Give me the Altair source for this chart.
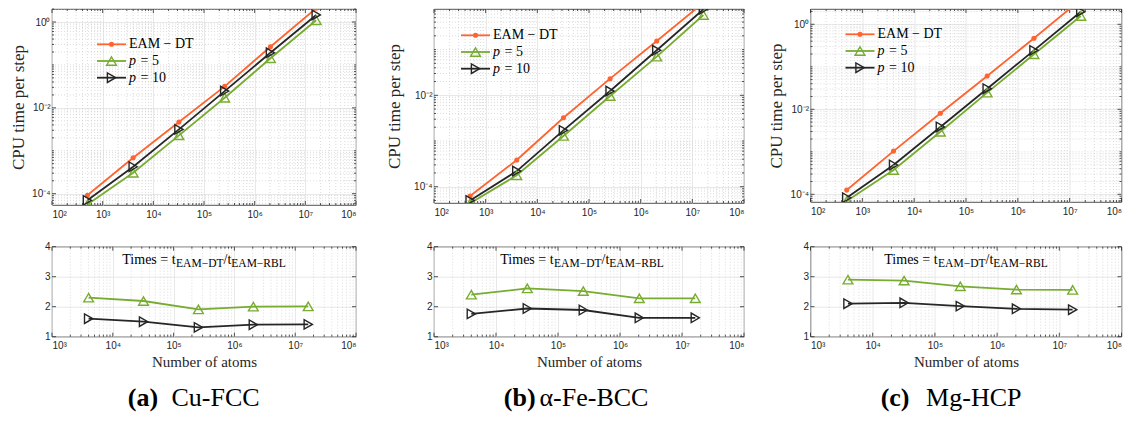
import altair as alt
import pandas as pd

# ---------------- data ----------------
atoms = [500, 4000, 32000, 256000, 2048000, 16384000]
atoms_ratio = [4000, 32000, 256000, 2048000, 16384000]

cu_dt = [9.2e-5, 6.9e-4, 4.67e-3, 0.0317, 0.265, 2.09]
cu_p5 = [5.6e-5, 3.07e-4, 2.29e-3, 0.0172, 0.143, 1.10]
cu_p10 = [7.0e-5, 4.24e-4, 3.15e-3, 0.0246, 0.192, 1.46]
cu_r5 = [2.30, 2.19, 1.91, 2.00, 2.01]
cu_r10 = [1.60, 1.50, 1.31, 1.40, 1.41]

fe_dt = [6.25e-5, 3.84e-4, 3.23e-3, 0.0231, 0.154, 1.06]
fe_p5 = [4.33e-5, 1.78e-4, 1.29e-3, 9.66e-3, 0.070, 0.571]
fe_p10 = [5.0e-5, 2.2e-4, 1.71e-3, 0.0124, 0.0966, 0.762]
fe_r5 = [2.40, 2.61, 2.52, 2.28, 2.28]
fe_r10 = [1.76, 1.94, 1.89, 1.63, 1.63]

mg_dt = [1.26e-4, 1.04e-3, 8.05e-3, 0.0608, 0.469, 3.8]
mg_p5 = [6.95e-5, 3.73e-4, 2.97e-3, 0.0246, 0.197, 1.57]
mg_p10 = [8.3e-5, 4.89e-4, 3.84e-3, 0.0305, 0.244, 1.98]
mg_r5 = [2.90, 2.87, 2.68, 2.57, 2.56]
mg_r10 = [2.10, 2.13, 2.02, 1.93, 1.90]

series_names = ["EAM − DT", "p = 5", "p = 10"]
legend_italic = ["", "p", "p"]
legend_rest = ["EAM − DT", "= 5", "= 10"]
colors = ["#FF6330", "#77AC30", "#262626"]
caption_bold = ["(a)", "(b)", "(c)"]
caption_text = ["Cu-FCC", "α-Fe-BCC", "Mg-HCP"]

# ---------------- styling helpers ----------------
SERIF = "Liberation Serif"
SANS = "Liberation Sans"
FRAME = "#262626"
MAJOR_GRID = "#e2e2e2"
MINOR_GRID = "#cdcdcd"
YTITLE_SIZE = 17
SUP = str.maketrans("-0123456789", "⁻⁰¹²³⁴⁵⁶⁷⁸⁹")
ONE = pd.DataFrame({"k": [0]})


def pow_expr(exps):
    e = "round(log(datum.value)/log(10))"
    expr = "''"
    for k in exps:
        expr = f"({e} == {k}) ? '10{str(k).translate(SUP)}' : {expr}"
    return expr


point_styles = [
    dict(shape="circle", size=26, filled=True),
    dict(shape="triangle-up", size=95, filled=False),
    dict(shape="triangle-right", size=90, filled=False),
]
color_scale = alt.Scale(domain=series_names, range=colors)


def edge_ticks(values, enc, W, H, length, vertical_axis):
    """inward tick marks on the frame, positioned through the chart's scale"""
    df = pd.DataFrame({enc.shorthand.split(":")[0]: values})
    out = []
    if vertical_axis:  # ticks along y (left and right edges)
        for a, b in [(0, length), (W, W - length)]:
            out.append(alt.Chart(df).mark_rule(color=FRAME, strokeWidth=0.8).encode(
                y=enc, x=alt.value(a), x2=alt.value(b)))
    else:  # ticks along x (bottom and top edges)
        for a, b in [(H, H - length), (0, length)]:
            out.append(alt.Chart(df).mark_rule(color=FRAME, strokeWidth=0.8).encode(
                x=enc, y=alt.value(a), y2=alt.value(b)))
    return out


def legend_layers(lx0, ly0):
    out = []
    for i, (col, st) in enumerate(zip(colors, point_styles)):
        cy = ly0 + i * 16.7
        out.append(alt.Chart(ONE).mark_rule(color=col, strokeWidth=1.8).encode(
            x=alt.value(lx0), x2=alt.value(lx0 + 29), y=alt.value(cy)))
        out.append(alt.Chart(ONE).mark_point(color=col, strokeWidth=1.4, opacity=1, **st).encode(
            x=alt.value(lx0 + 14.5), y=alt.value(cy)))
        tx = lx0 + 32
        if legend_italic[i]:
            out.append(alt.Chart(ONE).mark_text(font=SERIF, fontSize=14, fontStyle="italic",
                                                align="left", baseline="middle", color="black").encode(
                x=alt.value(tx), y=alt.value(cy), text=alt.value(legend_italic[i])))
            tx += 11.5
        out.append(alt.Chart(ONE).mark_text(font=SERIF, fontSize=14, align="left",
                                            baseline="middle", color="black").encode(
            x=alt.value(tx), y=alt.value(cy), text=alt.value(legend_rest[i])))
    return out


def top_chart(dt, p5, p10, ydom, W, H, lx0, ly0, yext, ytp):
    df = pd.DataFrame({
        "atoms": atoms * 3,
        "time": dt + p5 + p10,
        "series": [n for n in series_names for _ in atoms],
    })
    xs = alt.Scale(type="log", domain=[1e2, 1e8], nice=False)
    ys = alt.Scale(type="log", domain=ydom, nice=False)
    xmaj = [10.0 ** k for k in range(2, 9)]
    ymaj = [v for v in [1e-4, 1e-2, 1.0] if ydom[0] <= v <= ydom[1]]
    xaxis = alt.Axis(values=xmaj, labelExpr=pow_expr(range(2, 9)), title=None,
                     grid=True, labelPadding=4)
    yaxis = alt.Axis(values=ymaj, labelExpr=pow_expr([-4, -2, 0]),
                     title="CPU time per step", titleFontSize=YTITLE_SIZE, grid=True,
                     minExtent=yext, maxExtent=yext, titlePadding=ytp)
    X = alt.X("atoms:Q", scale=xs, axis=xaxis)
    Y = alt.Y("time:Q", scale=ys, axis=yaxis)
    minor_x = [m * 10.0 ** k for k in range(2, 8) for m in range(2, 10)]
    minor_y = [m * 10.0 ** k for k in range(-5, 1) for m in range(1, 10)
               if ydom[0] < m * 10.0 ** k < ydom[1] and not (m == 1 and k in (-4, -2, 0))]

    lines = alt.Chart(df).mark_line(strokeWidth=1.8, clip=True).encode(
        x=X, y=Y, color=alt.Color("series:N", scale=color_scale, legend=None))
    gx = alt.Chart(pd.DataFrame({"atoms": minor_x})).mark_rule(
        color=MINOR_GRID, strokeDash=[1, 2], strokeWidth=0.7).encode(x=X)
    gy = alt.Chart(pd.DataFrame({"time": minor_y})).mark_rule(
        color=MINOR_GRID, strokeDash=[1, 2], strokeWidth=0.7).encode(y=Y)
    ticks = (edge_ticks(xmaj, X, W, H, 4, False) + edge_ticks(minor_x, X, W, H, 2, False)
             + edge_ticks(ymaj, Y, W, H, 4, True) + edge_ticks(minor_y, Y, W, H, 2, True))
    pts = []
    for name, col, st in zip(series_names, colors, point_styles):
        pts.append(alt.Chart(df).transform_filter(alt.datum.series == name).mark_point(
            color=col, strokeWidth=1.4, opacity=1, clip=True, **st).encode(x=X, y=Y))
    return alt.layer(gx, gy, *ticks, lines, *pts, *legend_layers(lx0, ly0)).properties(width=W, height=H)


def bottom_chart(r5, r10, W, H, yext, ytp, cap_b, cap_t, cap_bx, cap_tx, ann_dx):
    names = series_names[1:]
    df = pd.DataFrame({
        "atoms": atoms_ratio * 2,
        "ratio": r5 + r10,
        "series": [n for n in names for _ in atoms_ratio],
    })
    xs = alt.Scale(type="log", domain=[1e3, 1e8], nice=False)
    ys = alt.Scale(domain=[1, 4], nice=False, zero=False)
    xmaj = [10.0 ** k for k in range(3, 9)]
    ymaj = [1, 2, 3, 4]
    xaxis = alt.Axis(values=xmaj, labelExpr=pow_expr(range(3, 9)),
                     title="Number of atoms", grid=True, labelPadding=4, titlePadding=4)
    yaxis = alt.Axis(values=ymaj, format="d", title="CPU time per step", titleOpacity=0,
                     titleFontSize=YTITLE_SIZE, grid=True,
                     minExtent=yext, maxExtent=yext, titlePadding=ytp)
    X = alt.X("atoms:Q", scale=xs, axis=xaxis)
    Y = alt.Y("ratio:Q", scale=ys, axis=yaxis)
    minor_x = [m * 10.0 ** k for k in range(3, 8) for m in range(2, 10)]
    lines = alt.Chart(df).mark_line(strokeWidth=1.8).encode(
        x=X, y=Y, color=alt.Color("series:N", scale=color_scale, legend=None))
    gx = alt.Chart(pd.DataFrame({"atoms": minor_x})).mark_rule(
        color=MINOR_GRID, strokeDash=[1, 2], strokeWidth=0.7).encode(x=X)
    ticks = (edge_ticks(xmaj, X, W, H, 4, False) + edge_ticks(minor_x, X, W, H, 2, False)
             + edge_ticks(ymaj, Y, W, H, 4, True))
    pts = []
    for name, col, st in zip(names, colors[1:], point_styles[1:]):
        pts.append(alt.Chart(df).transform_filter(alt.datum.series == name).mark_point(
            color=col, strokeWidth=1.4, opacity=1, **st).encode(x=X, y=Y))

    # annotation: Times = t_{EAM-DT} / t_{EAM-RBL}
    w1, w2, w3, w4 = 53.8, 47.4, 7.8, 54.4
    x0 = W / 2 - (w1 + w2 + w3 + w4) / 2 + ann_dx
    pieces = [("Times = t", 14, x0, 17.3), ("EAM−DT", 11.5, x0 + w1, 20.5),
              ("/t", 14, x0 + w1 + w2, 17.3), ("EAM−RBL", 11.5, x0 + w1 + w2 + w3, 20.5)]
    ann = []
    for txt, fs, px, py in pieces:
        ann.append(alt.Chart(ONE).mark_text(font=SERIF, fontSize=fs, align="left",
                                            baseline="alphabetic", color="black").encode(
            x=alt.value(px), y=alt.value(py), text=alt.value(txt)))
    capb = alt.Chart(ONE).mark_text(font=SERIF, fontSize=26, fontWeight="bold", align="right",
                                    baseline="alphabetic", color="black").encode(
        x=alt.value(cap_bx), y=alt.value(159.5), text=alt.value(cap_b))
    capt = alt.Chart(ONE).mark_text(font=SERIF, fontSize=26, align="left",
                                    baseline="alphabetic", color="black").encode(
        x=alt.value(cap_tx), y=alt.value(159.5), text=alt.value(cap_t))
    return alt.layer(gx, *ticks, lines, *pts, *ann, capb, capt).properties(width=W, height=H)


# ---------------- panels ----------------
top_a = top_chart(cu_dt, cu_p5, cu_p10, [5.45e-5, 2.01], 304, 196, 45, 35.3, 21, 3.5)
top_b = top_chart(fe_dt, fe_p5, fe_p10, [4.40e-5, 0.773], 310, 194, 27, 26.3, 26, 4.2)
top_c = top_chart(mg_dt, mg_p5, mg_p10, [6.59e-5, 2.29], 311, 193, 35, 25.3, 22, 3.2)

bot_a = bottom_chart(cu_r5, cu_r10, 304, 90, 21, 3.5, caption_bold[0], caption_text[0], 106.2, 119.5, 0)
bot_b = bottom_chart(fe_r5, fe_r10, 310, 90, 26, 4.2, caption_bold[1], caption_text[1], 101.6, 105.5, -7)
bot_c = bottom_chart(mg_r5, mg_r10, 311, 90, 22, 3.2, caption_bold[2], caption_text[2], 99.0, 115.6, 0)

col_a = alt.vconcat(top_a, bot_a, spacing=8.7)
col_b = alt.vconcat(top_b, bot_b, spacing=10.7)
col_c = alt.vconcat(top_c, bot_c, spacing=11.7)
right = alt.hconcat(col_b, col_c, spacing=21.5)

chart = alt.hconcat(col_a, right, spacing=28).properties(
    padding={"left": 1, "top": 0, "right": 0, "bottom": 0}, background="white"
).configure_view(
    stroke=FRAME, strokeWidth=0.8
).configure_axis(
    labelFont=SANS, labelFontSize=10, labelColor=FRAME,
    ticks=False, domain=False, gridColor=MAJOR_GRID, gridWidth=0.8,
    titleFont=SERIF, titleFontSize=15, titleFontWeight="normal", titleColor=FRAME,
)

chart.save("out.html", embed_options={"renderer": "svg", "actions": False})
